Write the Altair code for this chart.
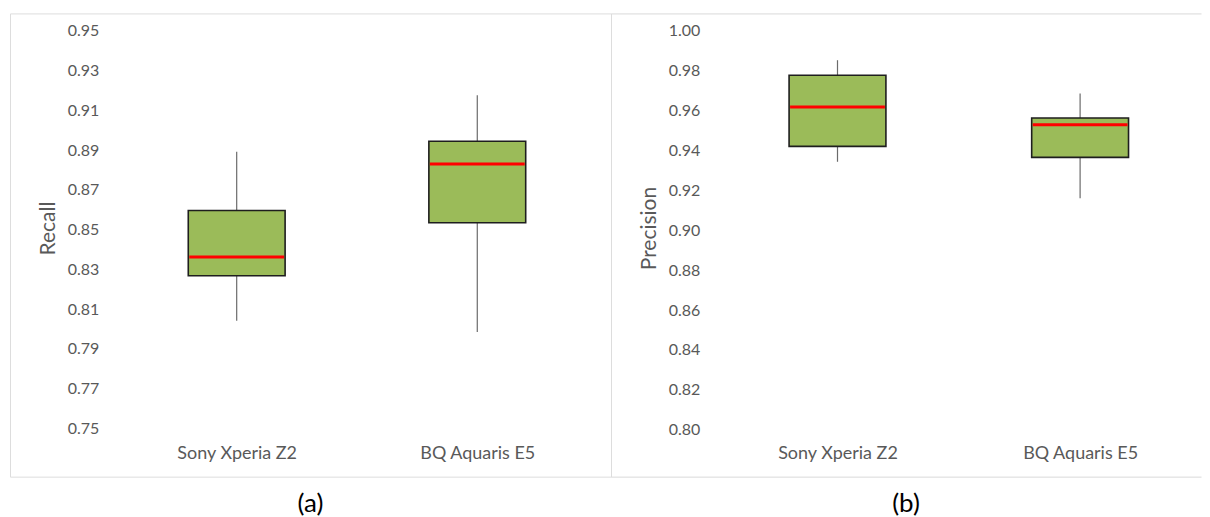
import altair as alt
import pandas as pd

# ---- data ----
devices = ["Sony Xperia Z2", "BQ Aquaris E5"]

recall_min = [0.8041, 0.7985]
recall_q1 = [0.8268, 0.8534]
recall_median = [0.8362, 0.8830]
recall_q3 = [0.8596, 0.8944]
recall_max = [0.8891, 0.9175]

precision_min = [0.9343, 0.9160]
precision_q1 = [0.9420, 0.9365]
precision_median = [0.9618, 0.9528]
precision_q3 = [0.9777, 0.9562]
precision_max = [0.9852, 0.9685]

recall_ticks = [0.75, 0.77, 0.79, 0.81, 0.83, 0.85, 0.87, 0.89, 0.91, 0.93, 0.95]
precision_ticks = [0.80, 0.82, 0.84, 0.86, 0.88, 0.90, 0.92, 0.94, 0.96, 0.98, 1.00]

recall_domain = [0.72575, 0.95869]
precision_domain = [0.7765, 1.00865]

FONT = "Lato"
TEXT_GRAY = "#595959"
BOX_FILL = "#9BBB59"
FRAME = "#d9d9d9"


def panel(mins, q1s, meds, q3s, maxs, ytitle, ticks, domain, caption, width,
          xpad, xalign, frame_by_grid):
    df = pd.DataFrame({
        "device": devices,
        "min": mins,
        "q1": q1s,
        "median": meds,
        "q3": q3s,
        "max": maxs,
    })
    xenc = alt.X(
        "device:N",
        scale=alt.Scale(type="point", domain=devices, padding=xpad, align=xalign),
        axis=alt.Axis(
            title=None, orient="bottom", offset=-23, domain=False, ticks=False,
            grid=False, labelPadding=0, labelBaseline="middle", labelAngle=0,
            labelFontSize=18, labelColor=TEXT_GRAY, labelFont=FONT,
        ),
    )
    yscale = alt.Scale(domain=domain, nice=False, zero=False)
    lo, hi = domain
    axis_kw = dict(
        title=ytitle, format=".2f", offset=-93, domain=False,
        ticks=False, labelPadding=4, labelFontSize=16,
        labelColor=TEXT_GRAY, labelFont=FONT, titleFont=FONT, titleFontSize=21,
        titleFontWeight="normal", titleColor=TEXT_GRAY, titlePadding=9, titleY=215,
    )
    if frame_by_grid:
        # top and bottom frame lines of the panel drawn as grid lines at the scale ends
        edge_test = f"datum.value < {ticks[0] - 0.005} || datum.value > {ticks[-1] + 0.005}"
        yaxis = alt.Axis(
            values=ticks + [lo, hi],
            labelExpr=f"({edge_test}) ? '' : datum.label",
            grid=True, gridColor=FRAME, gridWidth=1,
            gridOpacity={"condition": {"test": edge_test, "value": 1}, "value": 0},
            **axis_kw,
        )
    else:
        yaxis = alt.Axis(values=ticks, grid=False, **axis_kw)

    base = alt.Chart(df)
    whisker = base.mark_rule(color="#6b6b6b", strokeWidth=1.2).encode(
        x=xenc,
        y=alt.Y("min:Q", scale=yscale, axis=yaxis),
        y2="max:Q",
    )
    box = base.mark_bar(size=97, color=BOX_FILL, stroke="#1e1e1e", strokeWidth=1.6,
                        opacity=1).encode(
        x=xenc,
        y=alt.Y("q1:Q", scale=yscale, axis=yaxis),
        y2="q3:Q",
    )
    median = base.mark_tick(size=95, thickness=3, color="#FF0000", opacity=1).encode(
        x=xenc,
        y=alt.Y("median:Q", scale=yscale, axis=yaxis),
    )
    props = dict(
        width=width,
        height=464,
        title=alt.TitleParams(
            caption, orient="bottom", anchor="middle", fontSize=26, font=FONT,
            fontWeight="normal", color="#000000", offset=14,
        ),
    )
    if frame_by_grid:
        props["view"] = alt.ViewBackground(stroke="transparent")
    return alt.layer(whisker, box, median).properties(**props)


left = panel(recall_min, recall_q1, recall_median, recall_q3, recall_max,
             "Recall", recall_ticks, recall_domain, "(a)", 602, 0.749, 0.629, False)
right = panel(precision_min, precision_q1, precision_median, precision_q3, precision_max,
              "Precision", precision_ticks, precision_domain, "(b)", 591, 0.716, 0.652, True)

chart = alt.hconcat(left, right, spacing=0, bounds="flush").properties(
    padding={"left": 1, "top": 4, "right": 0, "bottom": 0},
).configure_view(
    stroke=FRAME, strokeWidth=1,
).configure(background="white")

chart.save("out.html", embed_options={"renderer": "svg", "actions": False})
